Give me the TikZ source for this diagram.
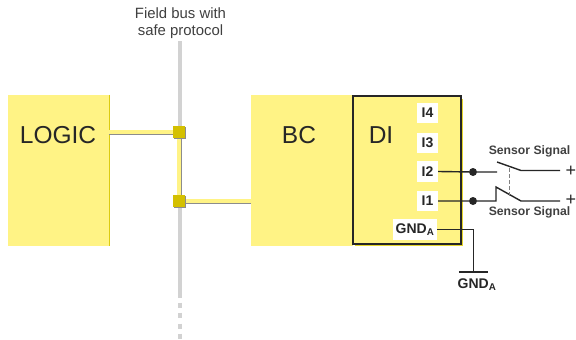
\documentclass[tikz,border=0pt]{standalone}
\usepackage{fontspec}
\setmainfont{Liberation Sans}
\usetikzlibrary{positioning}
\definecolor{boxyellow}{HTML}{FFF385}
\definecolor{edgeyellow}{HTML}{DCCB10}
\definecolor{portyellow}{HTML}{D4C000}
\definecolor{busgray}{HTML}{D2D2D2}
\tikzset{
  modulebox/.style={fill=boxyellow,minimum width=#1,minimum height=151pt,inner sep=0pt},
  modulename/.style={font=\fontsize{24.5}{24.5}\selectfont,text=black!85,inner sep=0pt},
  portbox/.style={fill=white,inner sep=0pt,minimum height=20.5pt,font=\fontsize{14}{14}\selectfont\bfseries,text=black!85},
  coupler/.style={fill=portyellow,minimum size=12pt,inner sep=0pt},
  shadowbox/.style={fill=black!45,minimum size=12pt,inner sep=0pt},
  linkh/.style={line width=4pt,draw=boxyellow,preaction={draw=black!45,line width=4pt,transform canvas={yshift=-1.2pt}}},
  linkv/.style={line width=4.5pt,draw=boxyellow,preaction={draw=black!45,line width=4.5pt,transform canvas={xshift=1.2pt}}},
  wire/.style={line width=1.4pt,draw=black!85},
  thinwire/.style={line width=1pt,draw=black!85},
  dotnode/.style={circle,fill=black!85,minimum size=8pt,inner sep=0pt},
  plusmark/.style={inner sep=0pt,font=\fontsize{18}{18}\selectfont,text=black!85},
  sigtext/.style={font=\fontsize{12.2}{13}\selectfont\bfseries,text=black!75,inner sep=0pt}
}
\begin{document}
\begin{tikzpicture}[x=1pt,y=-1pt]
  \useasboundingbox[fill=white] (0,0) rectangle (576,340);
  % field bus
  \coordinate (bustop) at (180,41);
  \coordinate (busend) at (180,298);
  \draw[busgray,line width=4.5pt] (bustop) -- (busend);
  \foreach \y in {305,315,326,336}
    \draw[busgray,line width=4.5pt] (180,\y-2.5) -- (180,\y+2.5);
  \node[align=center,inner sep=0pt,text=black!75,font=\fontsize{14.9}{16.5}\selectfont] (busname) at (180.5,23) {Field bus with\\safe protocol};
  % modules
  \node[modulebox=101pt] (logic) at (58.5,170.5) {};
  \node[modulename] at (58,135) (logictext) {LOGIC};
  \draw[edgeyellow,line width=1pt] (logic.north east) -- (logic.south east);
  \node[modulebox=102pt] (bc) at (302,170.5) {};
  \node[modulename] at (299,135) (bctext) {BC};
  \fill[edgeyellow!75!boxyellow] (355,99) rectangle (462.8,245.8);
  \node[draw=black!85,line width=1.2pt,fill=boxyellow,minimum width=108pt,minimum height=148pt,inner sep=0pt] (di) at (407,170) {};
  \node[modulename] at (381,135) (ditext) {DI};
  % couplers and links
  \coordinate (couplerone) at (179,132);
  \coordinate (couplertwo) at (179,201);
  \draw[linkh] (logic.east |- couplerone) -- (couplerone);
  \draw[linkh] (couplertwo) -- (bc.west |- couplertwo);
  \draw[linkv] (couplerone) -- (couplertwo);
  \node[shadowbox] at (180,133) (shadowone) {};
  \node[shadowbox] at (180,202) (shadowtwo) {};
  \node[coupler] at (couplerone) (portone) {};
  \node[coupler] at (couplertwo) (porttwo) {};
  % inputs
  \node[portbox,minimum width=21pt] (ifour) at (427.5,113) {I4};
  \node[portbox,minimum width=21pt] (ithree) at (427.5,143) {I3};
  \node[portbox,minimum width=21pt] (itwo) at (427.5,171.5) {I2};
  \node[portbox,minimum width=21pt] (ione) at (427.5,201) {I1};
  \node[portbox,minimum width=44pt] (gnd) at (415,229.5) {GND\textsubscript{A}};
  % sensor contacts
  \node[dotnode] (dottwo) at (473,172) {};
  \node[dotnode] (dotone) at (473,201) {};
  \coordinate (opentwo) at (497,172);
  \coordinate (armtwo) at (497,162);
  \coordinate (pivottwo) at (521,170.5);
  \coordinate (endtwo) at (560,170.5);
  \coordinate (openone) at (496,201);
  \coordinate (armone) at (496,187);
  \coordinate (pivotone) at (521,201);
  \coordinate (endone) at (560,201);
  \draw[wire] (itwo.east) -- (dottwo) -- (opentwo);
  \draw[wire] (armtwo) -- (pivottwo) -- (endtwo);
  \draw[wire] (ione.east) -- (dotone) -- (openone) -- (armone) -- (pivotone) -- (endone);
  \draw[black!50,line width=.8pt,dash pattern=on 4pt off 2pt] (509,168) -- (509,197);
  \node[plusmark] (plustwo) at (571,171) {+};
  \node[plusmark] (plusone) at (571,200) {+};
  \node[sigtext] (sigtwo) at (529.5,151) {Sensor Signal};
  \node[sigtext] (sigone) at (529.5,212) {Sensor Signal};
  % ground
  \node[minimum width=29pt,minimum height=0pt,inner sep=0pt] (gndbar) at (473.5,272) {};
  \draw[thinwire] (gnd.east) -| (gndbar.north);
  \draw[wire] (gndbar.west) -- (gndbar.east);
  \node[inner sep=0pt,font=\fontsize{14}{14}\selectfont\bfseries,text=black!85] (gndtext) at (477,285) {GND\textsubscript{A}};
\end{tikzpicture}
\end{document}
